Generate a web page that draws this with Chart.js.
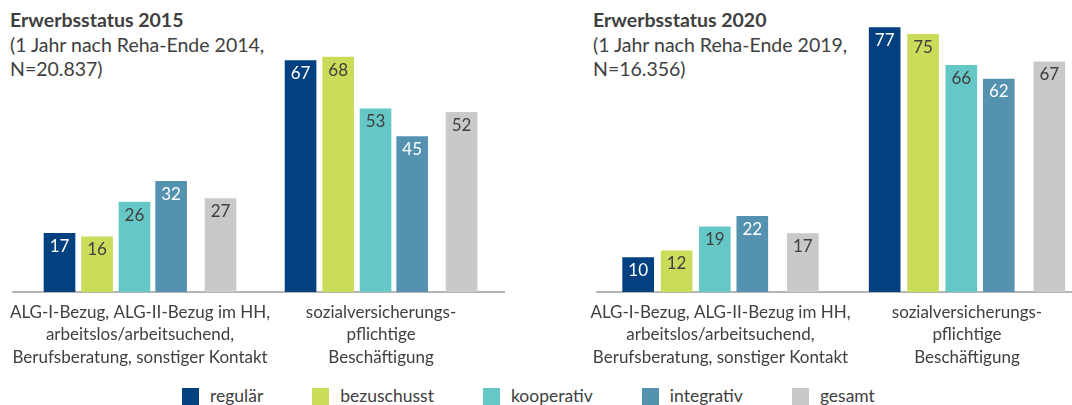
<!DOCTYPE html>
<html lang="de">
<head>
<meta charset="utf-8">
<title>Erwerbsstatus 2015 / 2020</title>
<script src="https://cdn.jsdelivr.net/npm/chart.js@4.4.1/dist/chart.umd.min.js"></script>
<style>
  body { margin: 0; width: 1072px; height: 405px; overflow: hidden; background: #fff; font-family: Lato, sans-serif; color: #404040; position: relative; }
  canvas { position: absolute; top: 0; }
  .head { position: absolute; top: 8px; font-size: 19.5px; line-height: 24.5px; white-space: nowrap; }
  .head b { font-weight: 700; }
  #legend { position: absolute; top: 387px; left: 182px; display: flex; align-items: center; font-size: 17.5px; line-height: 18px; }
  #legend .item { display: flex; align-items: center; margin-right: 49px; }
  #legend .item:last-child { margin-right: 0; }
  #legend .box { width: 17px; height: 17px; margin-right: 11px; }
</style>
</head>
<body>
<div class="head" id="head2015" style="left:10px"></div>
<div class="head" id="head2020" style="left:593px"></div>
<canvas id="chart2015" width="506" height="372" style="left:0"></canvas>
<canvas id="chart2020" width="488" height="372" style="left:584px"></canvas>
<div id="legend"></div>

<script>
// categories and series
const categories = [
  ['ALG-I-Bezug, ALG-II-Bezug im HH,', 'arbeitslos/arbeitsuchend,', 'Berufsberatung, sonstiger Kontakt'],
  ['sozialversicherungs-', 'pflichtige', 'Beschäftigung']
];
const series = ['regulär', 'bezuschusst', 'kooperativ', 'integrativ', 'gesamt'];

// Erwerbsstatus 2015 (in %)
const regulaer2015 = [17, 67];
const bezuschusst2015 = [16, 68];
const kooperativ2015 = [26, 53];
const integrativ2015 = [32, 45];
const gesamt2015 = [27, 52];

// Erwerbsstatus 2020 (in %)
const regulaer2020 = [10, 77];
const bezuschusst2020 = [12, 75];
const kooperativ2020 = [19, 66];
const integrativ2020 = [22, 62];
const gesamt2020 = [17, 67];

const titles2015 = ['Erwerbsstatus 2015', '(1 Jahr nach Reha-Ende 2014,', 'N=20.837)'];
const titles2020 = ['Erwerbsstatus 2020', '(1 Jahr nach Reha-Ende 2019,', 'N=16.356)'];

// styles
const colors = ['#02407f', '#cbdb5a', '#66c8c6', '#5592b0', '#c8c9cb'];
const labelColors = ['#ffffff', '#404040', '#404040', '#ffffff', '#404040'];
// bar position inside a group (gesamt sits a bit apart)
const barOffsets = [-0.334, -0.178, -0.023, 0.129, 0.334];

const valueLabels = {
  id: 'valueLabels',
  afterDatasetsDraw(chart) {
    const ctx = chart.ctx;
    ctx.save();
    ctx.font = '17px Lato';
    ctx.textAlign = 'center';
    ctx.textBaseline = 'middle';
    chart.data.datasets.forEach((ds, i) => {
      chart.getDatasetMeta(i).data.forEach((bar, j) => {
        ctx.fillStyle = ds.labelColor;
        ctx.fillText(ds.data[j].y, bar.x, bar.y + 13);
      });
    });
    ctx.restore();
  }
};

function makeChart(id, values, xMin, xMax, yMax, padLeft, padRight) {
  const datasets = series.map((name, i) => ({
    label: name,
    data: values[i].map((v, j) => ({ x: j + barOffsets[i], y: v })),
    backgroundColor: colors[i],
    labelColor: labelColors[i],
    barThickness: 31,
    grouped: false
  }));

  return new Chart(document.getElementById(id), {
    type: 'bar',
    data: { datasets },
    options: {
      responsive: false,
      animation: false,
      layout: { padding: { left: padLeft, right: padRight, top: 0, bottom: 0 } },
      scales: {
        x: {
          type: 'linear',
          min: xMin,
          max: xMax,
          offset: false,
          z: 1,
          grid: { display: false, drawTicks: false },
          border: { display: true, color: '#b5b5b5', width: 2 },
          afterBuildTicks: (axis) => { axis.ticks = categories.map((c, j) => ({ value: j })); },
          afterFit: (axis) => {
            axis.height = 80;
            // labels may poke past the axis ends, keep the plot area fixed anyway
            axis.paddingLeft = 0;
            axis.paddingRight = 0;
          },
          ticks: {
            autoSkip: false,
            maxRotation: 0,
            padding: 9,
            color: '#404040',
            font: { family: 'Lato', size: 17, lineHeight: 1.32 },
            callback: (value) => categories[value]
          }
        },
        y: { display: false, min: 0, max: yMax }
      },
      plugins: {
        legend: { display: false },
        tooltip: { enabled: false }
      }
    },
    plugins: [valueLabels]
  });
}

function fillHead(id, lines) {
  const el = document.getElementById(id);
  el.innerHTML = '<b>' + lines[0] + '</b><br>' + lines.slice(1).join('<br>');
}

fillHead('head2015', titles2015);
fillHead('head2020', titles2020);

makeChart('chart2015',
  [regulaer2015, bezuschusst2015, kooperativ2015, integrativ2015, gesamt2015],
  -0.527, 1.51, 84.5, 13, 2);
makeChart('chart2020',
  [regulaer2020, bezuschusst2020, kooperativ2020, integrativ2020, gesamt2020],
  -0.501, 1.426, 85, 13, 0);

const legend = document.getElementById('legend');
series.forEach((name, i) => {
  const item = document.createElement('div');
  item.className = 'item';
  item.innerHTML = '<span class="box" style="background:' + colors[i] + '"></span><span>' + name + '</span>';
  legend.appendChild(item);
});
</script>
</body>
</html>
